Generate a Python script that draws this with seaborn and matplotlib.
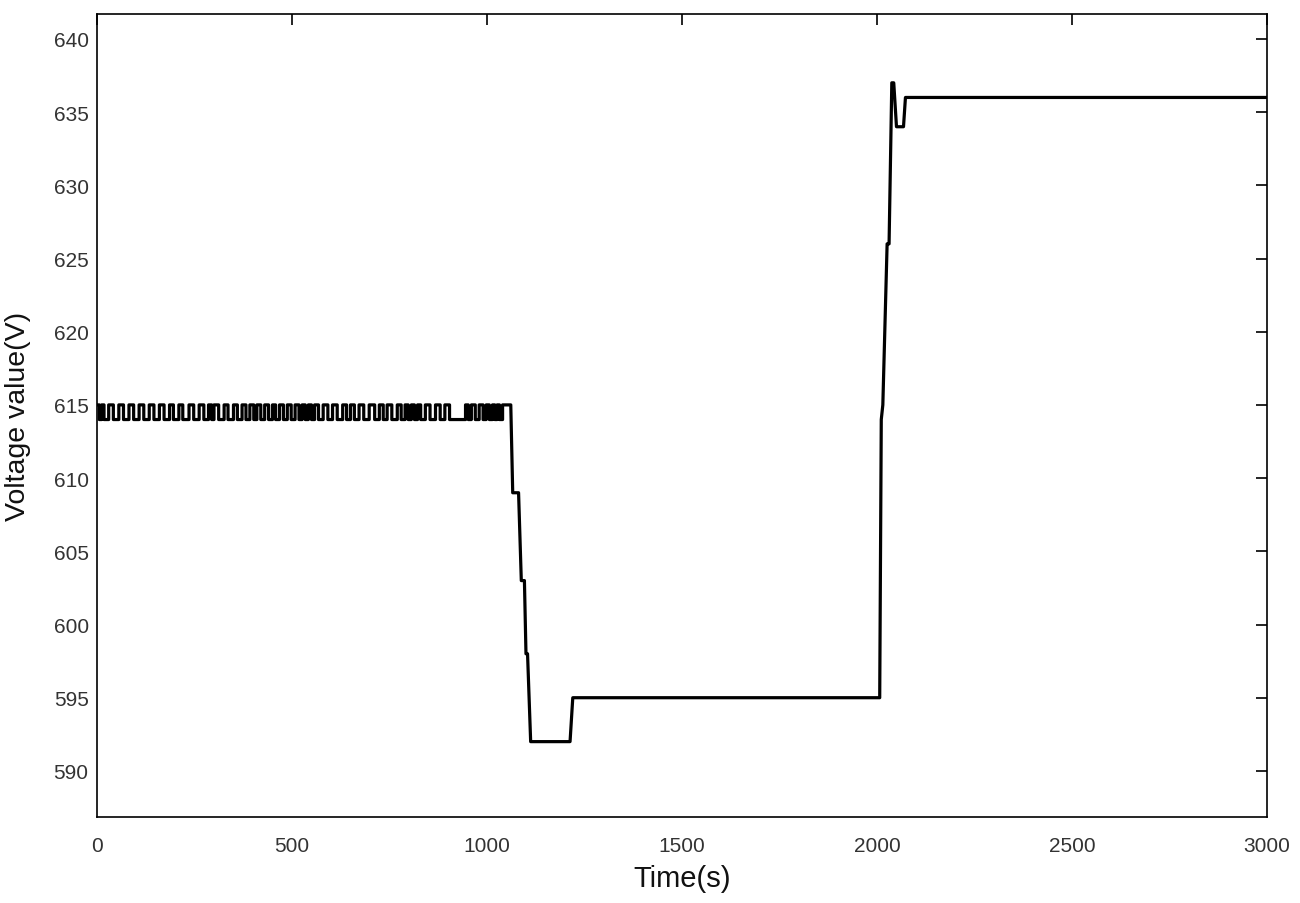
import numpy as np
import pandas as pd
import matplotlib
matplotlib.use("Agg")
import matplotlib.pyplot as plt
import seaborn as sns

# toggle times (s) of the 614/615 V ripple before the first step
ripple_t = [0, 6, 12, 18, 30, 42, 56, 68, 82, 94, 108, 120, 134, 146, 160, 172,
            186, 196, 210, 220, 236, 248, 262, 274, 286, 294, 300, 312, 326, 336,
            350, 360, 372, 382, 392, 402, 410, 420, 430, 440, 450, 458,
            468, 478, 488, 498, 508, 518, 526, 534, 542, 550, 558, 568,
            580, 592, 604, 616, 630, 640, 650, 660, 672, 684, 698, 712, 724, 734,
            744, 756, 770, 780, 790, 798, 806, 814, 822, 830, 842, 854, 868, 880,
            892, 904, 945, 952, 960, 970, 980, 990, 998, 1006, 1014, 1020,
            1026, 1032, 1040]
ripple_v = [615, 614]

# breakpoints of the rest of the voltage trace
step_t = [1061, 1066, 1081, 1088, 1096, 1100, 1104, 1112, 1213, 1220, 2007, 2011,
          2015, 2026, 2031, 2038, 2043, 2050, 2056, 2068, 2073, 3000]
step_v = [615, 609, 609, 603, 603, 598, 598, 592, 592, 595, 595, 614,
          615, 626, 626, 637, 637, 634, 634, 634, 636, 636]

yticks = [590, 595, 600, 605, 610, 615, 620, 625, 630, 635, 640]
xticks = [0, 500, 1000, 1500, 2000, 2500, 3000]

# expand ripple toggles into a stepped trace
t_pts, v_pts = [], []
for i, t in enumerate(ripple_t):
    v = ripple_v[i % 2]
    if t_pts:
        t_pts.append(t)
        v_pts.append(v_pts[-1])
    t_pts.append(t)
    v_pts.append(v)
t_pts.append(step_t[0])
v_pts.append(v_pts[-1])
t_pts += step_t
v_pts += step_v

df = pd.DataFrame({"Time": t_pts, "Voltage": v_pts})

sns.set_theme(style="white")
plt.rcParams['font.family'] = ['Liberation Sans', 'DejaVu Sans']

fig = plt.figure(figsize=(13, 9.04), dpi=100)
ax = fig.add_axes([0.0746, 0.0951, 0.9, 0.8883])
sns.lineplot(data=df, x="Time", y="Voltage", sort=False, color="black",
             linewidth=2.3, ax=ax, estimator=None)
ax.lines[0].set_solid_joinstyle("round")

ax.set_xlim(0, 3000)
ax.set_ylim(586.85, 641.7)
ax.set_xticks(xticks)
ax.set_yticks(yticks)
ax.tick_params(direction="in", length=8, width=1.2, top=True, right=True,
               labelsize=15, colors="black", labelcolor="#333333")
ax.tick_params(axis="x", pad=14)
ax.tick_params(axis="y", pad=6)
for s in ax.spines.values():
    s.set_visible(True)
    s.set_color("black")
    s.set_linewidth(1.2)
ax.set_xlabel("Time(s)", fontsize=21, labelpad=6, color="#111111")
ax.set_ylabel("Voltage value(V)", fontsize=20.5, labelpad=16, color="#111111")

fig.savefig("out.png", dpi=100)
